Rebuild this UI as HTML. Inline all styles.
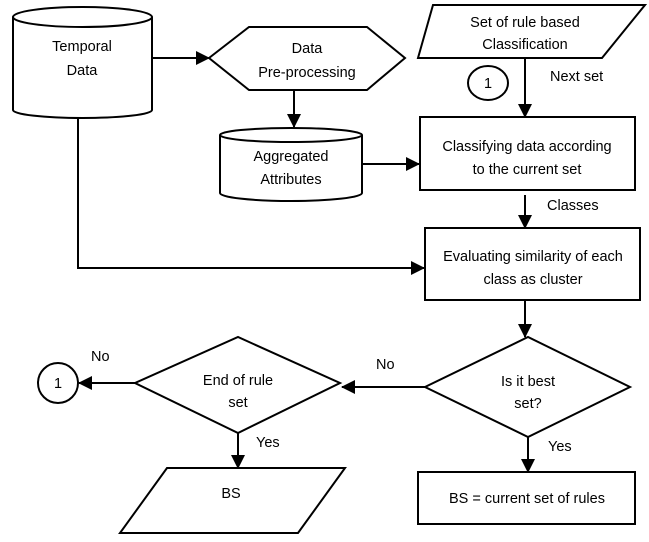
<!DOCTYPE html>
<html><head><style>
html,body{margin:0;padding:0;background:#fff;}
svg{display:block;}
text{font-family:"Liberation Sans",sans-serif;font-size:14.5px;fill:#000;}
</style></head><body>
<svg width="649" height="542" viewBox="0 0 649 542" xmlns="http://www.w3.org/2000/svg">
<defs>
<marker id="b" markerWidth="14" markerHeight="14" refX="13" refY="7" orient="auto" markerUnits="userSpaceOnUse"><path d="M0,0 L14,7 L0,14 z" fill="#000"/></marker></defs>
<g fill="none" stroke="#000" stroke-width="2">
<path d="M13,17 V110 A69.5,8 0 0 0 152,110 V17"/>
<ellipse cx="82.5" cy="17" rx="69.5" ry="10"/>
<polygon points="209,58 249,27 367,27 405,58 367,90 249,90"/>
<path d="M220,135 V193 A71,8 0 0 0 362,193 V135"/>
<ellipse cx="291" cy="135" rx="71" ry="7"/>
<polygon points="433,5 645,5 602,58 418,58"/>
<ellipse cx="488" cy="83" rx="20" ry="17"/>
<rect x="420" y="117" width="215" height="73"/>
<rect x="425" y="228" width="215" height="72"/>
<polygon points="425,387 528,337 630,387 528,437"/>
<polygon points="135,383 238,337 340,383 238,433"/>
<circle cx="58" cy="383" r="20"/>
<polygon points="167,468 345,468 298,533 120,533"/>
<rect x="418" y="472" width="217" height="52"/>
<line x1="152" y1="58" x2="209" y2="58" marker-end="url(#b)"/>
<line x1="294" y1="90" x2="294" y2="127" marker-end="url(#b)"/>
<line x1="362" y1="164" x2="419" y2="164" marker-end="url(#b)"/>
<line x1="525" y1="58" x2="525" y2="117" marker-end="url(#b)"/>
<line x1="525" y1="195" x2="525" y2="228" marker-end="url(#b)"/>
<polyline points="78,119 78,268 424,268" marker-end="url(#b)"/>
<line x1="525" y1="300" x2="525" y2="337" marker-end="url(#b)"/>
<line x1="425" y1="387" x2="342" y2="387" marker-end="url(#b)"/>
<line x1="135" y1="383" x2="79" y2="383" marker-end="url(#b)"/>
<line x1="238" y1="433" x2="238" y2="468" marker-end="url(#b)"/>
<line x1="528" y1="437" x2="528" y2="472" marker-end="url(#b)"/>
</g>
<g text-anchor="middle">
<text x="82" y="51">Temporal</text><text x="82" y="75">Data</text>
<text x="307" y="53">Data</text><text x="307" y="77">Pre-processing</text>
<text x="291" y="161">Aggregated</text><text x="291" y="184">Attributes</text>
<text x="525" y="27">Set of rule based</text><text x="525" y="49">Classification</text>
<text x="488" y="88">1</text>
<text x="527" y="151">Classifying data according</text><text x="527" y="174">to the current set</text>
<text x="533" y="261">Evaluating similarity of each</text><text x="533" y="284">class as cluster</text>
<text x="528" y="386">Is it best</text><text x="528" y="408">set?</text>
<text x="238" y="385">End of rule</text><text x="238" y="407">set</text>
<text x="58" y="388">1</text>
<text x="231" y="498">BS</text>
<text x="527" y="503">BS = current set of rules</text>
</g>
<text x="550" y="81">Next set</text>
<text x="547" y="210">Classes</text>
<text x="376" y="369">No</text>
<text x="91" y="361">No</text>
<text x="256" y="447">Yes</text>
<text x="548" y="451">Yes</text>
</svg>
</body></html>
